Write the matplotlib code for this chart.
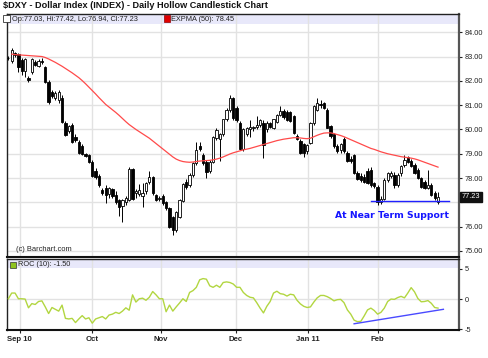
import matplotlib
matplotlib.use("Agg")
import matplotlib.pyplot as plt
from matplotlib.patches import Rectangle
import numpy as np

# ---------------- data ----------------
opens = [82.95, 82.80, 83.15, 83.10, 82.85, 82.40, 82.10, 82.38, 82.78, 82.62,
         82.80, 82.55, 81.97, 81.55, 81.30, 81.20, 81.30, 80.28, 79.95, 80.18,
         79.70, 79.50, 79.30, 78.98, 78.95, 78.68, 78.30, 78.10, 77.50, 77.60,
         77.35, 77.55, 77.30, 77.10, 76.85, 77.02, 77.10, 78.38, 77.40, 77.35,
         77.25, 77.45, 77.85, 78.05, 77.30, 77.15, 77.25, 77.00, 76.76, 76.40,
         75.87, 76.40, 77.05, 77.85, 77.72, 78.12, 78.60, 79.30, 78.95, 78.67,
         78.30, 78.67, 79.63, 79.60, 79.80, 80.41, 80.80, 81.30, 80.90, 80.27,
         79.18, 79.80, 80.00, 80.05, 80.10, 80.20, 80.27, 80.00, 80.25, 80.07,
         80.30, 80.60, 80.75, 80.70, 80.70, 80.55, 79.72, 79.52, 79.40, 79.10,
         79.45, 80.27, 80.82, 81.05, 81.10, 80.82, 80.13, 79.80, 79.30, 79.15,
         79.60, 79.04, 78.80, 78.95, 78.20, 78.10, 78.05, 78.30, 78.35, 77.80,
         77.65, 77.00, 77.15, 77.92, 78.10, 78.14, 77.70, 78.20, 78.55, 78.85,
         78.70, 78.55, 78.35, 78.00, 77.85, 77.60, 77.72, 77.38, 77.03]
highs = [83.02, 83.37, 83.20, 83.15, 82.95, 82.95, 82.18, 82.95, 82.85, 82.90,
         82.95, 82.60, 82.05, 81.62, 81.60, 81.62, 81.40, 80.35, 80.20, 80.25,
         79.80, 79.55, 79.40, 79.05, 79.00, 78.75, 78.40, 78.15, 77.60, 77.70,
         77.65, 77.60, 77.45, 77.15, 77.15, 77.25, 78.45, 78.42, 77.55, 77.75,
         77.80, 77.85, 78.30, 78.10, 77.35, 77.25, 77.35, 77.05, 76.82, 76.45,
         76.65, 77.15, 77.80, 77.95, 78.20, 78.65, 79.50, 79.50, 79.05, 78.75,
         78.75, 79.75, 80.05, 79.85, 80.45, 80.90, 81.40, 81.35, 80.95, 80.35,
         80.05, 80.10, 80.40, 80.15, 80.55, 80.45, 80.40, 80.35, 80.30, 80.45,
         80.65, 80.95, 80.85, 80.80, 80.75, 80.60, 79.80, 79.60, 79.45, 79.40,
         80.30, 81.00, 81.30, 81.20, 81.15, 80.90, 80.20, 79.85, 79.40, 79.45,
         79.70, 79.10, 78.90, 79.00, 78.30, 78.20, 78.15, 78.40, 78.45, 77.85,
         77.70, 77.25, 78.00, 78.25, 78.30, 78.25, 78.20, 78.55, 78.95, 78.90,
         78.80, 78.60, 78.40, 78.05, 77.90, 78.35, 77.80, 77.45, 77.42]
lows = [82.85, 82.75, 83.00, 82.35, 82.25, 82.15, 81.95, 82.30, 82.60, 82.55,
        82.70, 81.90, 81.05, 81.30, 81.20, 81.10, 80.25, 79.75, 79.85, 79.45,
        79.50, 79.00, 78.95, 78.85, 78.60, 78.05, 77.95, 77.65, 77.30, 76.97,
        77.20, 77.20, 76.95, 76.42, 76.20, 76.90, 77.05, 77.10, 77.20, 77.25,
        76.80, 77.35, 77.75, 77.30, 77.05, 77.05, 76.90, 76.70, 75.95, 75.66,
        75.80, 76.35, 77.00, 77.55, 77.65, 78.05, 78.55, 79.10, 78.55, 77.99,
        78.20, 78.60, 79.55, 78.70, 79.75, 80.35, 80.70, 80.40, 80.30, 79.15,
        79.10, 79.75, 79.70, 79.95, 80.00, 80.10, 78.84, 79.90, 80.05, 80.00,
        80.25, 80.55, 80.45, 80.35, 80.30, 79.80, 79.55, 79.00, 78.85, 79.00,
        79.40, 80.20, 80.75, 80.90, 80.85, 80.05, 79.65, 79.25, 79.05, 79.05,
        79.05, 78.65, 78.60, 78.15, 77.90, 77.85, 77.80, 77.75, 77.65, 77.60,
        76.90, 76.95, 77.10, 77.85, 78.00, 77.60, 77.65, 78.10, 78.45, 78.60,
        78.45, 78.15, 77.95, 77.60, 77.55, 77.55, 77.25, 77.10, 76.94]
closes = [82.93, 83.28, 83.05, 82.58, 82.42, 82.88, 82.05, 82.88, 82.66, 82.82,
          82.76, 81.97, 81.15, 81.38, 81.52, 81.55, 80.30, 79.78, 80.15, 79.50,
          79.55, 79.03, 79.00, 78.92, 78.68, 78.10, 78.05, 77.72, 77.40, 77.30,
          77.58, 77.25, 77.00, 76.83, 77.10, 77.20, 78.38, 77.15, 77.45, 77.50,
          77.40, 77.80, 78.05, 77.38, 77.10, 77.20, 76.97, 76.76, 76.00, 75.87,
          76.60, 77.10, 77.75, 77.64, 78.13, 78.60, 79.15, 79.18, 78.60, 78.26,
          78.67, 79.70, 79.97, 79.80, 80.41, 80.82, 81.30, 80.48, 80.40, 79.18,
          80.00, 80.05, 80.10, 80.10, 80.20, 80.40, 79.38, 80.27, 80.10, 80.41,
          80.60, 80.75, 80.50, 80.40, 80.35, 79.86, 79.60, 79.04, 79.04, 79.35,
          80.27, 80.96, 81.10, 81.00, 80.90, 80.07, 79.72, 79.30, 79.10, 79.40,
          79.10, 78.70, 78.70, 78.20, 77.97, 77.90, 77.85, 77.80, 77.72, 77.68,
          77.03, 77.15, 77.92, 78.20, 78.22, 77.70, 78.14, 78.50, 78.75, 78.65,
          78.50, 78.20, 78.00, 77.65, 77.60, 77.70, 77.30, 77.17, 77.23]
expma50 = [np.nan, 83.10, 83.08, 83.07, 83.06, 83.05, 83.04, 83.03, 83.02, 83.01,
           83.00, 82.96, 82.90, 82.83, 82.76, 82.68, 82.60, 82.51, 82.42, 82.33,
           82.23, 82.13, 82.01, 81.88, 81.74, 81.60, 81.46, 81.31, 81.17, 81.03,
           80.92, 80.81, 80.70, 80.58, 80.45, 80.32, 80.20, 80.10, 80.00, 79.91,
           79.82, 79.73, 79.64, 79.53, 79.42, 79.31, 79.20, 79.09, 78.98, 78.87,
           78.78, 78.72, 78.68, 78.66, 78.65, 78.66, 78.68, 78.70, 78.71, 78.72,
           78.73, 78.75, 78.78, 78.82, 78.87, 78.93, 78.99, 79.04, 79.08, 79.12,
           79.16, 79.19, 79.22, 79.26, 79.30, 79.34, 79.38, 79.42, 79.46, 79.50,
           79.54, 79.57, 79.60, 79.62, 79.64, 79.66, 79.66, 79.65, 79.63, 79.62,
           79.64, 79.70, 79.76, 79.81, 79.85, 79.86, 79.86, 79.83, 79.79, 79.75,
           79.70, 79.64, 79.58, 79.52, 79.46, 79.40, 79.34, 79.28, 79.22, 79.18,
           79.13, 79.08, 79.04, 79.00, 78.97, 78.94, 78.91, 78.88, 78.86, 78.84,
           78.82, 78.79, 78.75, 78.70, 78.65, 78.60, 78.55, 78.50, 78.45]
roc10 = [0.05, 1.0, 1.0, 0.05, 0.05, 0.0, -1.45, -0.75, -0.9, -0.4,
         -0.3, -1.3, -2.4, -1.4, -1.7, -2.0, -1.0, -3.2, -3.3, -3.2,
         -3.9, -3.3, -2.75, -3.3, -3.1, -4.0, -3.3, -3.1, -2.9, -3.3,
         -2.65, -2.5, -2.2, -2.4, -2.0, -1.45, -1.85, 0.7, -0.5, 0.05,
         0.15, -0.2, 0.3, 1.25, 0.7, 0.05, 0.05, -2.1, -1.0, -2.0,
         -1.3, -0.65, 0.05, -0.4, 1.1, 1.4, 1.95, 3.2, 3.4, 3.3,
         2.2, 1.95, 2.3, 1.95, 2.75, 2.85, 2.75, 2.5, 1.95, 1.95,
         1.1, 0.6, 0.3, 0.2, -0.6, -1.5, -2.3, -1.2, -0.4, 1.0,
         1.3, 0.9, 0.8, 0.5, 0.8, 0.7, -0.2, -0.8, -1.2, -1.4,
         -1.3, -0.5, 0.2, 0.6, 0.6, 0.4, 0.1, -0.3, -0.1, -0.05,
         -0.6, -1.8, -2.5, -3.5, -3.75, -3.7, -2.8, -1.8, -1.5, -1.9,
         -2.5, -2.2, -1.5, -0.4, 0.0, -0.05, 0.25, 0.45, 0.2, 1.0,
         1.9, 1.2, 0.1, -0.45, -0.4, -0.25, -0.7, -1.4, -1.5]
month_labels = ["Sep 10", "Oct", "Nov", "Dec", "Jan 11", "Feb"]
price_ticks = [75, 76, 77, 78, 79, 80, 81, 82, 83, 84]
roc_ticks = [-5, 0, 5]
support_x = [108, 131.3]
support_y = [77.05, 77.05]
roc_trend_x = [103, 129.6]
roc_trend_y = [-4.1, -1.7]
last_close = 77.23

# ---------------- layout ----------------
W, H = 489, 358
month_pos = [3.4, 24.9, 45.5, 67.8, 89.2, 110.0]
plt.rcParams['font.family'] = ['Liberation Sans', 'DejaVu Sans']

fig = plt.figure(figsize=(W / 100, H / 100), dpi=100)
fig.patch.set_facecolor('white')

def fx(px):
    return px / W

def fy(py):
    return 1 - py / H

ax = fig.add_axes([fx(7), fy(257.3), fx(459) - fx(7), fy(14) - fy(257.3)])
ax2 = fig.add_axes([fx(7), fy(329.5), fx(459) - fx(7), fy(259) - fy(329.5)])

n = len(closes)
x = np.arange(n)
o = np.array(opens); h = np.array(highs); l = np.array(lows); c = np.array(closes)

for a in (ax, ax2):
    a.set_xlim(-0.4, 134.25)
    a.set_axisbelow(True)
    a.set_xticks(month_pos)
    a.grid(True, axis='x', color='#e2e2e2', lw=1.0)
    for side in ('top', 'left'):
        a.spines[side].set_color('#222222')
        a.spines[side].set_linewidth(1.0)
    a.spines['bottom'].set_color('#111111')
    a.spines['bottom'].set_linewidth(1.5)
    a.spines['right'].set_color('#555555')
    a.spines['right'].set_linewidth(1.6)
    a.yaxis.tick_right()
    a.tick_params(axis='y', labelsize=5.3, length=2.5, width=0.8, pad=1.5,
                  colors='#222222')

# ---- main panel ----
ax.set_ylim(74.74, 84.75)
ax.set_yticks(price_ticks)
ax.set_yticklabels(['' if t == 77 else f"{t:.2f}" for t in price_ticks])
ax.grid(True, axis='y', color='#e2e2e2', lw=1.0)
ax.tick_params(axis='x', length=0, labelbottom=False)

# legend band
ax.add_patch(Rectangle((0, 1 - 10 / 243.3), 1, 10 / 243.3, transform=ax.transAxes,
                       facecolor='#e8e8fa', edgecolor='none', zorder=0.2))

# candles
ax.vlines(x, l, h, color='black', lw=0.7, zorder=2)
up = c >= o
body_lo = np.minimum(o, c)
body_h = np.maximum(np.abs(c - o), 0.025)
ax.bar(x[up], body_h[up], bottom=body_lo[up], width=0.68, facecolor='white',
       edgecolor='black', linewidth=0.6, zorder=3)
ax.bar(x[~up], body_h[~up], bottom=body_lo[~up], width=0.68, facecolor='black',
       edgecolor='black', linewidth=0.6, zorder=3)

ax.plot(x, expma50, color='#ff4a4a', lw=0.9, zorder=4)
ax.plot(support_x, support_y, color='#2020ff', lw=1.0, zorder=5)
ax.text(0.9775, 0.17, "At Near Term Support", transform=ax.transAxes,
        ha='right', va='center', fontsize=6.7, fontweight='bold',
        color='#1515ff', family=['DejaVu Sans'])
ax.text(0.019, 0.033, "(c) Barchart.com", transform=ax.transAxes,
        ha='left', va='center', fontsize=5.4, color='#222222')

# legend text in band
fig.patches.append(Rectangle((fx(3.5), fy(21.5)), 6 / W, 6 / H, transform=fig.transFigure,
                             facecolor='white', edgecolor='#333333', lw=0.6, zorder=10))
fig.text(fx(12), fy(19.2), "Op:77.03, Hi:77.42, Lo:76.94, Cl:77.23", fontsize=5.3,
         va='center', ha='left', color='#222222')
fig.patches.append(Rectangle((fx(163.5), fy(21.5)), 6 / W, 6 / H, transform=fig.transFigure,
                             facecolor='#e00000', edgecolor='#900000', lw=0.5, zorder=10))
fig.text(fx(171.5), fy(19.2), "EXPMA (50): 78.45", fontsize=5.3,
         va='center', ha='left', color='#222222')

# last value box
ax.text(1.006, last_close, f"{last_close:.2f}", transform=ax.get_yaxis_transform(),
        ha='left', va='center', fontsize=5.3, color='white',
        bbox=dict(boxstyle='square,pad=0.18', facecolor='#111111', edgecolor='#111111'),
        zorder=10, clip_on=False)

# ---- ROC panel ----
ax2.set_ylim(-5.05, 6.65)
ax2.set_yticks(roc_ticks)
ax2.set_yticklabels([str(t) for t in roc_ticks])
ax2.axhline(0, color='#e2e2e2', lw=1.0, zorder=0.5)
ax2.add_patch(Rectangle((0, 1 - 9 / 70.5), 1, 9 / 70.5, transform=ax2.transAxes,
                        facecolor='#e8e8fa', edgecolor='none', zorder=0.2))
ax2.plot(x, roc10, color='#b2d641', lw=1.0, zorder=3)
ax2.plot(roc_trend_x, roc_trend_y, color='#4a4aff', lw=1.0, zorder=4)
ax2.set_xticklabels(month_labels)
ax2.tick_params(axis='x', labelsize=5.6, length=2, width=0.8, pad=2.5, colors='#222222')
for t in ax2.get_xticklabels():
    t.set_fontweight('bold')
fig.patches.append(Rectangle((fx(10), fy(267.5)), 5.5 / W, 5.5 / H, transform=fig.transFigure,
                             facecolor='#8fc31f', edgecolor='#333333', lw=0.5, zorder=10))
fig.text(fx(18.5), fy(264.6), "ROC (10): -1.50", fontsize=5.3,
         va='center', ha='left', color='#222222')

# title
fig.text(fx(3), fy(6), "$DXY - Dollar Index (INDEX) - Daily Hollow Candlestick Chart",
         fontsize=6.6, fontweight='bold', va='center', ha='left', color='#111111',
         parse_math=False)

fig.savefig("out.png", dpi=100, facecolor='white')
